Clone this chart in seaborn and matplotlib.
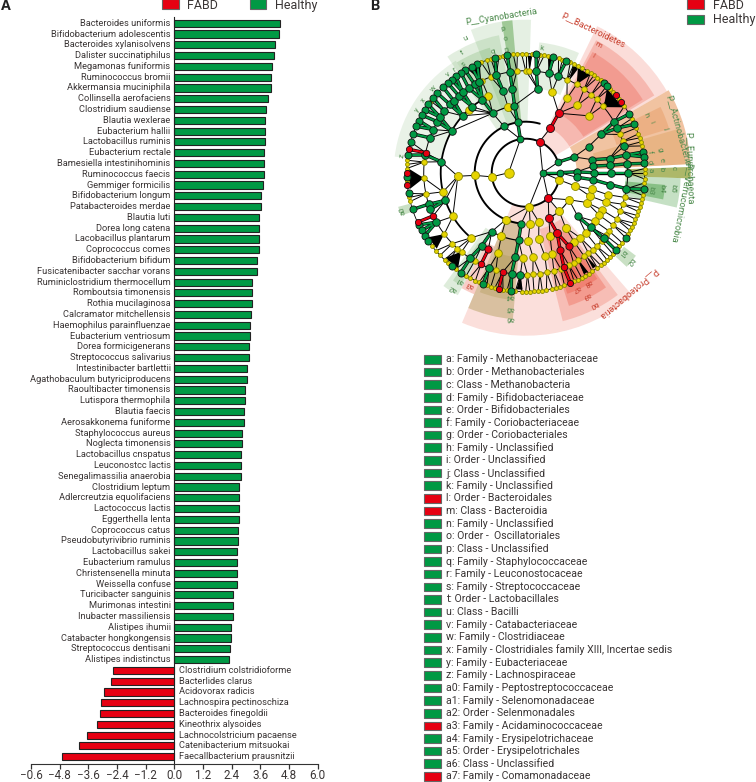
#!/usr/bin/env python3

import matplotlib
matplotlib.use("Agg")
import matplotlib.pyplot as plt
from matplotlib.patches import Rectangle
import numpy as np
import pandas as pd
import seaborn as sns

# colors
GREEN = "#009944"
RED = "#e60012"
YELLOW = "#e6d400"
TEXT = "#3a3535"
EDGE = "#222222"

# panel A data
SPECIES_HEALTHY = [
    "Bacteroides uniformis", "Bifidobacterium adolescentis", "Bacteroides xylanisolvens",
    "Dalister succinatiphilus", "Megamonas funiformis", "Ruminococcus bromii",
    "Akkermansia muciniphila", "Collinsella aerofaciens", "Clostridium saudiense",
    "Blautia wexlerae", "Eubacterium hallii", "Lactobacillus ruminis",
    "Eubacterium rectale", "Bamesiella intestinihominis", "Ruminococcus faecis",
    "Gemmiger formicilis", "Bifidobacterium longum", "Patabacteroides merdae",
    "Blautia luti", "Dorea long catena", "Lacobacillus plantarum",
    "Coprococcus comes", "Bifidobacterium bifidum", "Fusicatenibacter sacchar vorans",
    "Ruminiclostridium thermocellum", "Romboutsia timonensis", "Rothia mucilaginosa",
    "Calcramator mitchellensis", "Haemophilus parainfluenzae", "Eubacterium ventriosum",
    "Dorea formicigenerans", "Streptococcus salivarius", "Intestinibacter bartlettii",
    "Agathobaculum butyriciproducens", "Raoultibacter timonensis", "Lutispora thermophila",
    "Blautia faecis", "Aerosakkonema funiforme", "Staphylococcus aureus",
    "Noglecta timonensis", "Lactobacillus cnspatus", "Leuconostcc lactis",
    "Senegalimassilia anaerobia", "Clostridium leptum", "Adlercreutzia equolifaciens",
    "Lactococcus lactis", "Eggerthella lenta", "Coprococcus catus",
    "Pseudobutyrivibrio ruminis", "Lactobacillus sakei", "Eubacterium ramulus",
    "Christensenella minuta", "Weissella confuse", "Turicibacter sanguinis",
    "Murimonas intestini", "Inubacter massiliensis", "Alistipes ihumii",
    "Catabacter hongkongensis", "Streptococcus dentisani", "Alistipes indistinctus",
]
LDA_HEALTHY = [
    4.43, 4.37, 4.20, 4.16, 4.10, 4.04, 4.04, 3.92, 3.84, 3.80, 3.80, 3.80,
    3.74, 3.74, 3.74, 3.70, 3.62, 3.62, 3.53, 3.53, 3.53, 3.53, 3.45, 3.45,
    3.25, 3.25, 3.25, 3.21, 3.18, 3.17, 3.11, 3.11, 3.03, 3.03, 2.95, 2.95,
    2.92, 2.92, 2.82, 2.82, 2.79, 2.79, 2.79, 2.72, 2.72, 2.72, 2.72, 2.65,
    2.65, 2.61, 2.61, 2.61, 2.61, 2.47, 2.46, 2.44, 2.37, 2.37, 2.32, 2.29,
]
SPECIES_FABD = [
    "Clostridium colstridioforme", "Bacterlides clarus", "Acidovorax radicis",
    "Lachnospira pectinoschiza", "Bacteroides finegoldii", "Kineothrix alysoides",
    "Lachnocolstricium pacaense", "Catenibacterium mitsuokai", "Faecallbacterium prausnitzii",
]
LDA_FABD = [-2.57, -2.65, -2.95, -3.07, -3.10, -3.23, -3.66, -3.99, -4.69]
X_TICKS = [-6.0, -4.8, -3.6, -2.4, -1.2, 0.0, 1.2, 2.4, 3.6, 4.8, 6.0]
X_TICK_LABELS = ["\u22120.6", "\u22124.8", "\u22123.6", "\u22122.4", "\u22121.2",
                 "0.0", "1.2", "2.4", "3.6", "4.8", "6.0"]

# panel B key
KEY_LABELS = [
    "a: Family - Methanobacteriaceae", "b: Order - Methanobacteriales", "c: Class - Methanobacteria",
    "d: Family - Bifidobacteriaceae", "e: Order - Bifidobacteriales", "f: Family - Coriobacteriaceae",
    "g: Order - Coriobacteriales", "h: Family - Unclassified", "i: Order - Unclassified",
    "j: Class - Unclassified", "k: Family - Unclassified", "l: Order - Bacteroidales",
    "m: Class - Bacteroidia", "n: Family - Unclassified", "o: Order -  Oscillatoriales",
    "p: Class - Unclassified", "q: Family - Staphylococcaceae", "r: Family - Leuconostocaceae",
    "s: Family - Streptococcaceae", "t: Order - Lactobacillales", "u: Class - Bacilli",
    "v: Family - Catabacteriaceae", "w: Family - Clostridiaceae",
    "x: Family - Clostridiales family XIII, Incertae sedis", "y: Family - Eubacteriaceae",
    "z: Family - Lachnospiraceae", "a0: Family - Peptostreptococcaceae", "a1: Family - Selenomonadaceae",
    "a2: Order - Selenmonadales", "a3: Family - Acidaminococcaceae", "a4: Family - Erysipelotrichaceae",
    "a5: Order - Erysipelotrichales", "a6: Class - Unclassified", "a7: Family - Comamonadaceae",
]
KEY_RED = ["l:", "m:", "a3:", "a7:"]

# cladogram nodes, angle in degrees for every level going outwards
NODES_GREEN = [
    [0],
    [99, 18, 0],
    [115, 99, 18, 1, 355, 265],
    [119, 99.5, 22.5, 11, 5.6, 0, 354, 320, 264, 240],
    [172.6, 150.6, 138, 129, 120.6, 105.5, 99, 82, 27, 9.6, 5, 0, 352, 320, 263, 239, 199],
    [170, 160, 155, 150, 147, 143, 138, 135, 131, 128, 124, 120, 117, 106.7, 99, 84, 76.8, 71.3,
     30, 26, 15, 10, 5, 0, 351, 320, 267, 262, 249, 237, 209, 198, 201],
    [98.9, 105, 114, 117, 120.6, 123, 126, 128.5, 131, 134, 138, 141, 145, 148, 151, 154, 157, 161,
     165, 171.5, 182, 190, 198, 206, 209, 212, 215, 232, 237, 249, 263, 85, 76.6, 70, 49, 47,
     29.6, 24, 10, 7.7, 4.5, 352, 319.3, 327],
]
NODES_RED = [
    [],
    [66, 311.5],
    [61, 297],
    [61, 297.6],
    [244, 300.4, 294],
    [168.7, 205, 244, 257, 292],
    [168.7, 180, 186, 204.6, 257, 292, 40.5, 36.6],
]
NODES_YELLOW = [
    [180],
    [187, 276, 348],
    [183, 247, 328, 311, 285, 275, 345],
    [183, 105, 334, 306, 291, 249, 281, 272, 340, 346],
    [116, 132, 72, 61, 52.5, 42, 211, 193, 230, 251, 334, 345, 340, 330, 325, 315, 310, 305, 288,
     283, 275, 268],
    [174, 192, 183, 217, 231, 224, 66, 60, 55, 50, 46, 41, 115.5, 110, 95, 90, 88, 22, 18,
     346, 342, 338, 333, 329, 325, 322, 318, 314, 311, 308, 305, 301, 298, 295, 290, 286, 282,
     278, 274, 271, 253, 240, 228],
    [92, 94, 96, 101, 103, 107, 109, 112, 143, 174, 176, 178, 184, 192, 194, 218, 221, 224, 227,
     229, 234, 240, 242, 245, 247, 251, 253, 255, 259, 261, 265, 268, 270, 272, 274, 276, 278, 280,
     283, 285, 287, 289, 294, 296, 298, 300, 302, 304, 307, 309, 311, 313, 315, 317, 322, 324, 329,
     331, 333, 335, 337, 339, 341, 343, 345, 347, 349, 355, 357, 0, 2, 13, 15, 17, 19, 22, 27,
     34, 38, 43, 45, 51, 53, 55, 57, 59, 62, 64, 66, 68, 72, 74, 79, 81, 83, 87, 90],
]
LEVEL_RADIUS = [17, 34, 51, 68, 85, 102, 119]

# black arcs: level index, first angle, last angle
ARC_LEVEL = [1, 2, 2, 3, 3, 4, 5, 6]
ARC_START = [18, 74, 297, 99, 239, 120, 0, 0]
ARC_END = [348, 265, 328, 119, 264, 230, 360, 360]
ARC_WIDTH = [1.4, 1.4, 0.8, 0.9, 0.9, 1.3, 0.7, 0.6]

# black fans between the two outer levels: centre angle, half width
FAN_ANGLE = [116, 183, 217, 230.7, 267, 40, 60, 64.7, 77, 88, 306, 301]
FAN_HALF = [3, 5, 3.5, 4, 1.5, 6, 3.5, 1.5, 1.5, 1, 1, 1]

# shaded clades: first angle, last angle, inner radius, outer radius, color, alpha
CLADE_START = [30, 31, 32, 247, 284, 288, 289, 290,
               88, 95, 101, 106, 122, 66, 3, 17, 3,
               -2, -13, -11, 247, 249, 250, 234, 236, 241, 317, 195]
CLADE_END = [64, 62, 61, 311, 307, 305, 304, 297,
             111, 99, 124, 122, 173, 84, 30, 26, 16,
             2, -2, -5, 265, 264, 263, 241, 240, 247, 323, 199]
CLADE_INNER = [34, 51, 68, 34, 58, 70, 85, 102,
               51, 51, 51, 68, 85, 85, 51, 95, 70,
               100, 100, 100, 50, 68, 85, 68, 85, 80, 123, 120]
CLADE_OUTER = [163, 150, 138, 163, 153, 140, 128, 117,
               153, 153, 140, 130, 132, 131, 165, 150, 160,
               165, 155, 140, 147, 128, 117, 140, 130, 132, 138, 132]
CLADE_COLOR = ["#e83820"] * 8 + ["#4c9a3c"] * 6 + ["#e07b30", "#e07b30", "#d08a30"] + \
              ["#8a9a2a", "#3f9a3c", "#3f9a3c"] + ["#a89248"] * 3 + ["#4c9a3c", "#4c9a3c"] + \
              ["#e83820", "#4c9a3c", "#4c9a3c"]
CLADE_ALPHA = [0.17, 0.22, 0.22, 0.16, 0.2, 0.25, 0.25, 0.3,
               0.14, 0.45, 0.16, 0.2, 0.12, 0.15, 0.45, 0.25, 0.25,
               0.7, 0.3, 0.45, 0.4, 0.3, 0.3, 0.18, 0.2, 0.25, 0.3, 0.3]

# labels round the cladogram: text, angle, radius
GREEN_TAGS = ["u", "t", "s", "r", "v", "w", "x", "y", "z", "p", "o", "n", "q", "k",
              "h", "i", "j", "g", "f", "e", "d", "c", "b", "a", "b3", "b4", "b5",
              "b2", "b1", "a0", "a2", "a1", "a4", "a5", "a6"]
GREEN_TAG_ANGLE = [114, 118, 120, 124.6, 128.4, 137.6, 144.6, 150, 172, 98.8, 98.7, 98.8, 105, 82.7,
                   25.5, 22, 17.5, 9.6, 9.6, 5.3, 5, 1.7, 1.4, 1.2, -8.2, -6.6, -6,
                   -40.5, -39.7, 197, 238, 238.5, 262.8, 263.4, 263.9]
GREEN_TAG_RADIUS = [147, 136, 125, 125, 125, 125, 125, 125, 125, 146, 136, 124, 125, 125,
                    134, 136, 148, 136, 126, 137, 125, 148, 136, 125, 126, 137, 148,
                    137, 126, 129, 137, 126, 125, 136.6, 147]
RED_TAGS = ["m", "l", "a3", "a7", "a8", "a9", "b0"]
RED_TAG_ANGLE = [60.5, 60, 243.6, -66.5, -60.6, -63.7, -62.9]
RED_TAG_RADIUS = [147, 135, 125, 126, 126, 137.6, 148.6]
PHYLA = ["P__Cyanobacteria", "P__Bacteroidetes", "P__Proteobacteria",
         "P__Actinobacteria", "P__Euryarchaeota", "P__Verrucomicrobia"]
PHYLA_ANGLE = [99, 64.6, -49.6, 15.6, 1.5, -11]
PHYLA_RADIUS = [158, 158, 158, 158, 163, 159]
PHYLA_COLOR = ["#4c8a4c", "#c8402f", "#c8402f", "#4c8a4c", "#4c8a4c", "#4c8a4c"]

sns.set_style("white")
plt.rcParams["font.family"] = ["Roboto", "DejaVu Sans"]

fig = plt.figure(figsize=(7.56, 7.82), dpi=100)
W, H = 756, 782

# Panel A
ax = fig.add_axes([31 / W, 1 - 763.5 / H, (317.7 - 31) / W, (763.5 - 17) / H])
df = pd.DataFrame({
    "species": SPECIES_HEALTHY + SPECIES_FABD,
    "lda": LDA_HEALTHY + LDA_FABD,
    "group": ["Healthy"] * len(LDA_HEALTHY) + ["FABD"] * len(LDA_FABD),
})
sns.barplot(data=df, y="species", x="lda", hue="group", palette={"Healthy": GREEN, "FABD": RED},
            dodge=False, width=0.66, saturation=1, edgecolor=EDGE, linewidth=0.8, legend=False, ax=ax)
ax.set_xlim(-6, 6)
ax.set_ylim(len(df) - 1 + 0.63, -0.58)
ax.set_xlabel("")
ax.set_ylabel("")
ax.set_yticks([])
ax.set_xticks(X_TICKS)
ax.set_xticklabels(X_TICK_LABELS, fontsize=8.4, color=TEXT)
ax.tick_params(axis="x", bottom=True, length=3.5, width=0.9, color="#333333", pad=0.5)
ax.spines["top"].set_visible(False)
ax.spines["right"].set_visible(False)
ax.spines["left"].set_position(("data", 0))
ax.spines["left"].set_color("#222222")
ax.spines["bottom"].set_color("#333333")
ax.patch.set_alpha(0)
for i, name in enumerate(df.species):
    if df.lda[i] > 0:
        ax.text(-0.16, i, name, ha="right", va="center", fontsize=6.7, color=TEXT)
    else:
        ax.text(0.2, i, name, ha="left", va="center", fontsize=6.7, color=TEXT)

# Panel B cladogram
clad = fig.add_axes([(525.7 - 172) / W, 1 - (172.7 + 172) / H, 344 / W, 344 / H], projection="polar")
clad.set_rlim(0, 172)
clad.set_axis_off()
for t0, t1, r0, r1, col, alpha in zip(CLADE_START, CLADE_END, CLADE_INNER, CLADE_OUTER,
                                      CLADE_COLOR, CLADE_ALPHA):
    clad.bar(np.deg2rad((t0 + t1) / 2), r1 - r0, width=np.deg2rad(t1 - t0), bottom=r0,
             color=col, alpha=alpha, linewidth=0, zorder=1)

for lev, t0, t1, lw in zip(ARC_LEVEL, ARC_START, ARC_END, ARC_WIDTH):
    arc = np.deg2rad(np.linspace(t0, t1, 200))
    clad.plot(arc, np.full(200, LEVEL_RADIUS[lev]), color="black", lw=lw, zorder=2)

for ang, half in zip(FAN_ANGLE, FAN_HALF):
    clad.fill(np.deg2rad([ang, ang - half, ang + half]),
              [LEVEL_RADIUS[5], LEVEL_RADIUS[6] - 2, LEVEL_RADIUS[6] - 2], color="black", lw=0, zorder=2)


def nearest(angle, others):
    # closest node of the level below, round the circle
    return min(others, key=lambda o: abs((o - angle + 180) % 360 - 180))


for lev in range(1, 7):
    below = NODES_GREEN[lev - 1] + NODES_RED[lev - 1] + NODES_YELLOW[lev - 1]
    for nodes, col in [(NODES_YELLOW[lev], None), (NODES_GREEN[lev], GREEN), (NODES_RED[lev], RED)]:
        parents = NODES_GREEN[lev - 1] if col == GREEN else NODES_RED[lev - 1] if col == RED else []
        for ang in nodes:
            par = nearest(ang, below)
            same = False
            if parents:
                near = nearest(ang, parents)
                if abs((near - ang + 180) % 360 - 180) < 4:
                    par = near
                    same = True
            pts = np.deg2rad([par, ang]), [LEVEL_RADIUS[lev - 1], LEVEL_RADIUS[lev]]
            if same:
                clad.plot(*pts, color="black", lw=2.4, zorder=3, solid_capstyle="butt")
                clad.plot(*pts, color=col, lw=1.5, zorder=3.1, solid_capstyle="butt")
            else:
                clad.plot(*pts, color="black", lw=0.7, zorder=2.5)

YELLOW_SIZE = [47, 33, 33, 33, 30, 16, 8]
GREEN_SIZE = [24, 24, 28, 28, 30, 30, 26]
RED_SIZE = [33, 33, 33, 33, 27, 22, 20]
for lev in range(7):
    for nodes, col, sizes, edge in [(NODES_YELLOW[lev], YELLOW, YELLOW_SIZE, "#8a8a00"),
                                    (NODES_GREEN[lev], GREEN, GREEN_SIZE, "#111111"),
                                    (NODES_RED[lev], RED, RED_SIZE, "#111111")]:
        if not nodes:
            continue
        sns.scatterplot(x=np.deg2rad(nodes), y=[LEVEL_RADIUS[lev]] * len(nodes), color=col,
                        s=sizes[lev], edgecolor=edge, linewidth=0.6, legend=False, ax=clad,
                        zorder=4 if col == YELLOW else 5, clip_on=False)
clad.set_xlabel("")
clad.set_ylabel("")
clad.set_rlim(0, 172)

for tags, angles, radii, col in [(GREEN_TAGS, GREEN_TAG_ANGLE, GREEN_TAG_RADIUS, "#4c8a4c"),
                                 (RED_TAGS, RED_TAG_ANGLE, RED_TAG_RADIUS, "#c8402f")]:
    for tag, ang, r in zip(tags, angles, radii):
        clad.text(np.deg2rad(ang), r, tag, color=col, fontsize=5.6, ha="center", va="center",
                  rotation=ang - 90, rotation_mode="anchor", clip_on=False, zorder=6)
for name, ang, r, col in zip(PHYLA, PHYLA_ANGLE, PHYLA_RADIUS, PHYLA_COLOR):
    clad.text(np.deg2rad(ang), r, name, color=col, fontsize=6.6, ha="center", va="center",
              rotation=ang - 90, rotation_mode="anchor", clip_on=False, zorder=6)

# overlay in pixels for legends, key and panel letters
over = fig.add_axes([0, 0, 1, 1])
over.set_xlim(0, W)
over.set_ylim(H, 0)
over.set_axis_off()
over.patch.set_alpha(0)


def swatch(x, y, w, h, col):
    over.add_patch(Rectangle((x, y), w, h, facecolor=col, edgecolor="#666666", lw=0.8))


swatch(162, -1, 16.5, 10, RED)
swatch(249.5, -1, 16.5, 10, GREEN)
over.text(187.5, 5.5, "FABD", fontsize=9, color=TEXT, va="center")
over.text(275, 5.5, "Healthy", fontsize=9, color=TEXT, va="center")
swatch(687, -1, 16.5, 10, RED)
swatch(687, 15, 16.5, 9, GREEN)
over.text(713, 5.5, "FABD", fontsize=9, color=TEXT, va="center")
over.text(713, 20, "Healthy", fontsize=9, color=TEXT, va="center")
over.text(1, 6.5, "A", fontsize=10.5, fontweight="bold", color="#222222", va="center")
over.text(370, 6.5, "B", fontsize=10.5, fontweight="bold", color="#222222", va="center")

for i, label in enumerate(KEY_LABELS):
    y = 359.3 + i * 12.64
    col = RED if label.split(" ")[0] in KEY_RED else GREEN
    swatch(424, y - 4.3, 16.5, 8.6, col)
    over.text(446, y, label, fontsize=7.6, color=TEXT, va="center")

fig.savefig("out.png", dpi=100)
